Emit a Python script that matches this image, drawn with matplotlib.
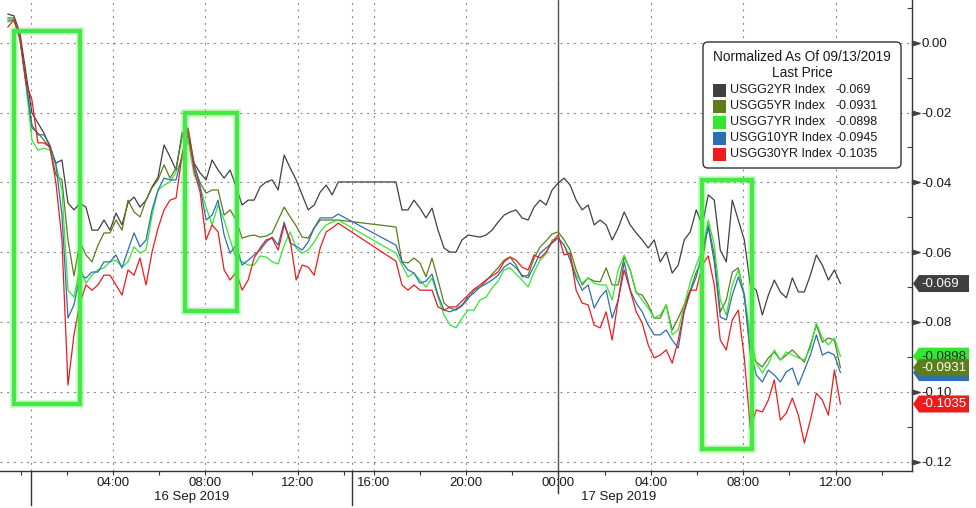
"""Treasury curve moves vs the 13 Sep 2019 close, Bloomberg style intraday panel."""

import numpy as np
import matplotlib

matplotlib.use("Agg")

import matplotlib.pyplot as plt
from matplotlib.patches import FancyBboxPatch, Polygon, Rectangle
from matplotlib.transforms import IdentityTransform

plt.rcParams["font.family"] = ["Liberation Sans", "DejaVu Sans"]

W, H, DPI = 976, 508, 100

# hours after 16 Sep 2019 00:00; the quiet hours after the 16 Sep afternoon
# are squeezed on the axis, like on the terminal
BREAK_AT = 15.0
BREAK_SQUEEZE = 0.72

TIME_A = -0.55 + 0.26 * np.arange(56)   # 16 Sep
TIME_B = 16.97 + 0.26 * np.arange(75)   # 16 Sep evening -> 17 Sep midday

# normalized change, in units of 1e-4
USGG2YR_A = [82, 77, 28, -87, -201, -230, -259, -299, -345, -336, -459, -479, -460, -471,
             -537, -537, -508, -537, -488, -522, -459, -442, -471, -451, -413, -385, -293,
             -327, -365, -259, -250, -345, -373, -393, -336, -365, -388, -365, -413, -465,
             -451, -451, -413, -399, -393, -422, -322, -359, -393, -436, -479, -465, -428,
             -408, -436, -399]
USGG2YR_B = [-399, -479, -479, -451, -474, -502, -474, -537, -588, -600, -600, -565, -551,
             -554, -557, -551, -537, -514, -494, -485, -479, -502, -508, -471, -451, -465,
             -422, -402, -388, -408, -451, -479, -465, -522, -508, -522, -565, -531, -485,
             -522, -545, -565, -588, -565, -628, -600, -660, -637, -565, -542, -479, -522,
             -436, -451, -594, -628, -451, -508, -565, -694, -709, -780, -723, -680, -714,
             -731, -674, -714, -714, -666, -608, -637, -680, -651, -690]

USGG5YR_A = [71, 71, 13, -107, -244, -259, -279, -302, -379, -393, -565, -668, -571, -608,
             -628, -580, -545, -545, -508, -537, -451, -485, -499, -451, -416, -393, -350,
             -388, -359, -270, -244, -350, -402, -431, -422, -422, -494, -479, -508, -560,
             -554, -551, -557, -554, -545, -508, -471, -499, -525, -557, -560, -531, -508,
             -508, -508, -508]
USGG5YR_B = [-528, -628, -631, -617, -631, -671, -617, -680, -746, -760, -766, -754, -734,
             -709, -700, -683, -663, -645, -623, -614, -637, -671, -666, -617, -585, -568,
             -548, -542, -565, -594, -651, -694, -674, -683, -685, -645, -694, -694, -614,
             -651, -717, -723, -751, -789, -789, -751, -823, -789, -751, -709, -657, -628,
             -522, -608, -771, -737, -657, -645, -723, -895, -915, -929, -903, -886, -909,
             -895, -880, -898, -915, -866, -809, -858, -846, -852, -931]

USGG7YR_A = [59, 65, 8, -121, -279, -308, -302, -308, -350, -422, -709, -729, -645, -689,
             -666, -651, -645, -628, -623, -643, -628, -585, -603, -594, -494, -422, -408,
             -399, -370, -336, -279, -379, -413, -471, -522, -465, -508, -565, -617, -628,
             -637, -637, -611, -614, -628, -634, -580, -542, -588, -603, -594, -571, -542,
             -522, -514, -508]
USGG7YR_B = [-603, -637, -671, -660, -680, -700, -674, -729, -780, -809, -817, -789, -766,
             -766, -737, -729, -703, -683, -651, -645, -663, -680, -700, -657, -623, -605,
             -565, -560, -580, -614, -666, -689, -674, -689, -694, -694, -737, -651, -608,
             -651, -714, -737, -760, -789, -780, -751, -837, -823, -751, -686, -637, -594,
             -508, -580, -737, -780, -694, -651, -723, -837, -918, -946, -920, -880, -909,
             -886, -895, -903, -909, -875, -803, -846, -866, -846, -898]

USGG10YR_A = [65, 65, 13, -113, -236, -264, -264, -293, -350, -494, -789, -751, -666, -674,
              -657, -657, -628, -628, -608, -645, -594, -545, -585, -565, -479, -422, -388,
              -393, -393, -322, -264, -350, -413, -508, -494, -451, -551, -603, -580, -637,
              -623, -608, -594, -571, -557, -580, -514, -574, -583, -594, -571, -531, -502,
              -502, -502, -491]
USGG10YR_B = [-580, -628, -651, -660, -689, -683, -663, -723, -766, -771, -763, -751, -729,
              -717, -700, -691, -680, -666, -643, -631, -645, -666, -674, -640, -603, -588,
              -574, -560, -580, -623, -674, -709, -694, -760, -729, -709, -789, -737, -628,
              -709, -746, -771, -809, -837, -837, -823, -852, -875, -771, -714, -671, -600,
              -528, -628, -786, -794, -723, -671, -723, -880, -952, -972, -938, -952, -972,
              -943, -932, -981, -938, -895, -837, -895, -886, -895, -945]

USGG30YR_A = [45, 65, 16, -113, -164, -287, -287, -299, -402, -565, -981, -837, -746, -694,
              -709, -694, -666, -666, -694, -723, -651, -666, -617, -694, -600, -531, -479,
              -451, -445, -322, -250, -365, -428, -565, -522, -542, -651, -680, -657, -709,
              -680, -617, -588, -565, -560, -594, -522, -565, -680, -637, -643, -666, -588,
              -542, -531, -517]
USGG30YR_B = [-626, -694, -709, -694, -709, -709, -709, -757, -766, -757, -757, -740, -723,
              -706, -694, -680, -668, -657, -628, -614, -623, -643, -651, -608, -617, -600,
              -571, -551, -608, -603, -709, -746, -751, -809, -817, -771, -852, -737, -651,
              -709, -771, -803, -866, -903, -895, -880, -918, -852, -766, -709, -709, -637,
              -611, -694, -852, -880, -794, -766, -903, -1104, -1052, -1058, -1024, -966,
              -1081, -1061, -1018, -1067, -1147, -1081, -1004, -1024, -1067, -938, -1035]

NAMES = ["USGG2YR Index", "USGG5YR Index", "USGG7YR Index", "USGG10YR Index", "USGG30YR Index"]
LAST_PRICE = [-0.069, -0.0931, -0.0898, -0.0945, -0.1035]
COLORS = ["#404040", "#5b7d1c", "#33e633", "#2f6db3", "#ee1b1b"]
TAG_TEXT = ["white", "white", "#222222", "white", "white"]

Y_TICKS = [0.0, -0.02, -0.04, -0.06, -0.08, -0.10, -0.12]
Y_MINOR = [0.01, -0.01, -0.03, -0.05, -0.07, -0.09, -0.11]
HOUR_TICKS = [4, 8, 12, 16, 20, 24, 28, 32, 36]
HOUR_LABELS = ["04:00", "08:00", "12:00", "16:00", "20:00", "00:00", "04:00", "08:00", "12:00"]
HOUR_MINOR = [0, 2, 6, 10, 14, 18, 22, 26, 30, 34, 38]
SESSION_LINES = [0.44, 14.36, 24.0]
DAYS = [(7.4, "16 Sep 2019"), (26.6, "17 Sep 2019")]


def pos(hours):
    hours = np.asarray(hours, dtype=float)
    return np.where(hours > BREAK_AT, hours - BREAK_SQUEEZE, hours)


def pix(x, y_top):
    # display coordinates from pixel position measured from the top-left
    return x, H - y_top


fig = plt.figure(figsize=(W / DPI, H / DPI), dpi=DPI)
fig.patch.set_facecolor("white")
ax = fig.add_axes([0, 37 / H, 912 / W, 471 / H])

times = pos(np.concatenate([TIME_A, TIME_B]))
series = [
    (USGG2YR_A, USGG2YR_B),
    (USGG5YR_A, USGG5YR_B),
    (USGG7YR_A, USGG7YR_B),
    (USGG10YR_A, USGG10YR_B),
    (USGG30YR_A, USGG30YR_B),
]
for (part_a, part_b), color in zip(series, COLORS):
    values = np.concatenate([part_a, part_b]) / 1e4
    ax.plot(times, values, color=color, lw=0.9, zorder=3)

ax.set_xlim(-0.892, 38.59)
ax.set_ylim(-0.1227, 0.01223)

grid_style = dict(color="#858585", lw=0.8, ls=(0, (1.8, 4.2)))
ax.set_axisbelow(True)
ax.grid(True, which="major", axis="both", **grid_style)
ax.axvline(pos(SESSION_LINES[0]), zorder=1, **grid_style)
ax.axvline(pos(SESSION_LINES[1]), zorder=1, **grid_style)
ax.axvline(pos(SESSION_LINES[2]), color="#555555", lw=1.0, zorder=1)
for t, depth in zip(SESSION_LINES, [-0.072, -0.072, -0.047]):
    ax.plot([pos(t), pos(t)], [0, depth], transform=ax.get_xaxis_transform(),
            color="#333333", lw=1.0, clip_on=False)

for side in ("left", "top"):
    ax.spines[side].set_visible(False)
for side in ("right", "bottom"):
    ax.spines[side].set_color("#333333")
    ax.spines[side].set_linewidth(1.0)

ax.set_xticks(pos(HOUR_TICKS), HOUR_LABELS)
ax.set_xticks(pos(HOUR_MINOR), minor=True)
ax.tick_params(axis="x", which="both", direction="out", length=3, width=0.8,
               color="#333333", labelsize=9.5, labelcolor="#1a1a1a", pad=1.5)
for t, label in DAYS:
    ax.text(pos(t), -0.055, label, transform=ax.get_xaxis_transform(),
            ha="center", va="center", fontsize=9.5, color="#1a1a1a")

ax.yaxis.tick_right()
ax.set_yticks(Y_TICKS, [f"{v:.2f}" for v in Y_TICKS])
ax.set_yticks(Y_MINOR, minor=True)
ax.tick_params(axis="y", which="major", length=0, pad=6.5, labelsize=9.5,
               labelcolor="#1a1a1a")
ax.tick_params(axis="y", which="minor", direction="in", length=3.5, width=0.8,
               color="#444444")
ax.plot(np.ones(len(Y_TICKS)), Y_TICKS, transform=ax.get_yaxis_transform(),
        ls="none", marker=[(0, -0.3), (1, 0), (0, 0.3), (0, -0.3)], ms=11,
        color="#404040", clip_on=False, zorder=4)

# highlight boxes, in axis units
boxes = [((-0.29, 2.57), (-0.1035, 0.0034)),
         ((7.12, 9.37), (-0.0769, -0.0201)),
         ((30.22, 32.38), (-0.1164, -0.0393))]
for (t0, t1), (v0, v1) in boxes:
    x0, x1 = pos([t0, t1])
    for lw, alpha in ((6.0, 0.25), (3.2, 1.0)):
        ax.add_patch(Rectangle((x0, v0), x1 - x0, v1 - v0, fill=False,
                               edgecolor="#45e845", lw=lw, alpha=alpha,
                               zorder=5, clip_on=False))

# last value tags on the right axis, stacked: the 5YR tag ends up on top
x_right = ax.get_xlim()[1]
for k, i in enumerate((0, 4, 3, 2, 1)):
    x0, yc = ax.transData.transform((x_right, LAST_PRICE[i]))
    x0 += 1
    half = 8.5
    verts = [(x0, yc), (x0 + 6, yc + half), (x0 + 56, yc + half),
             (x0 + 56, yc - half), (x0 + 6, yc - half)]
    fig.add_artist(Polygon(verts, closed=True, transform=IdentityTransform(),
                           facecolor=COLORS[i], edgecolor="none", zorder=5 + 2 * k))
    fig.text(x0 + 8, yc - 0.5, f"{LAST_PRICE[i]:g}", transform=IdentityTransform(),
             ha="left", va="center", fontsize=9.5, color=TAG_TEXT[i], zorder=6 + 2 * k)

# legend panel
bx, by = pix(703, 168)
fig.add_artist(FancyBboxPatch((bx, by), 198, 126, boxstyle="round,pad=0,rounding_size=5",
                              transform=IdentityTransform(), facecolor="white",
                              edgecolor="#333333", lw=1.0, zorder=20))
for text, y_top in (("Normalized As Of 09/13/2019", 57), ("Last Price", 73)):
    fig.text(*pix(802, y_top), text, transform=IdentityTransform(), ha="center",
             va="center", fontsize=9.8, color="#1a1a1a", zorder=21)
for i, name in enumerate(NAMES):
    y_top = 90 + 16.1 * i
    sx, sy = pix(713, y_top + 6.5)
    fig.add_artist(Rectangle((sx, sy), 13, 13, transform=IdentityTransform(),
                             facecolor=COLORS[i], edgecolor="none", zorder=21))
    fig.text(*pix(730, y_top), name, transform=IdentityTransform(), ha="left",
             va="center", fontsize=9, color="#1a1a1a", zorder=21)
    fig.text(*pix(835, y_top), f"{LAST_PRICE[i]:g}", transform=IdentityTransform(),
             ha="left", va="center", fontsize=9, color="#1a1a1a", zorder=21)

fig.savefig("out.png", dpi=DPI, facecolor="white")
